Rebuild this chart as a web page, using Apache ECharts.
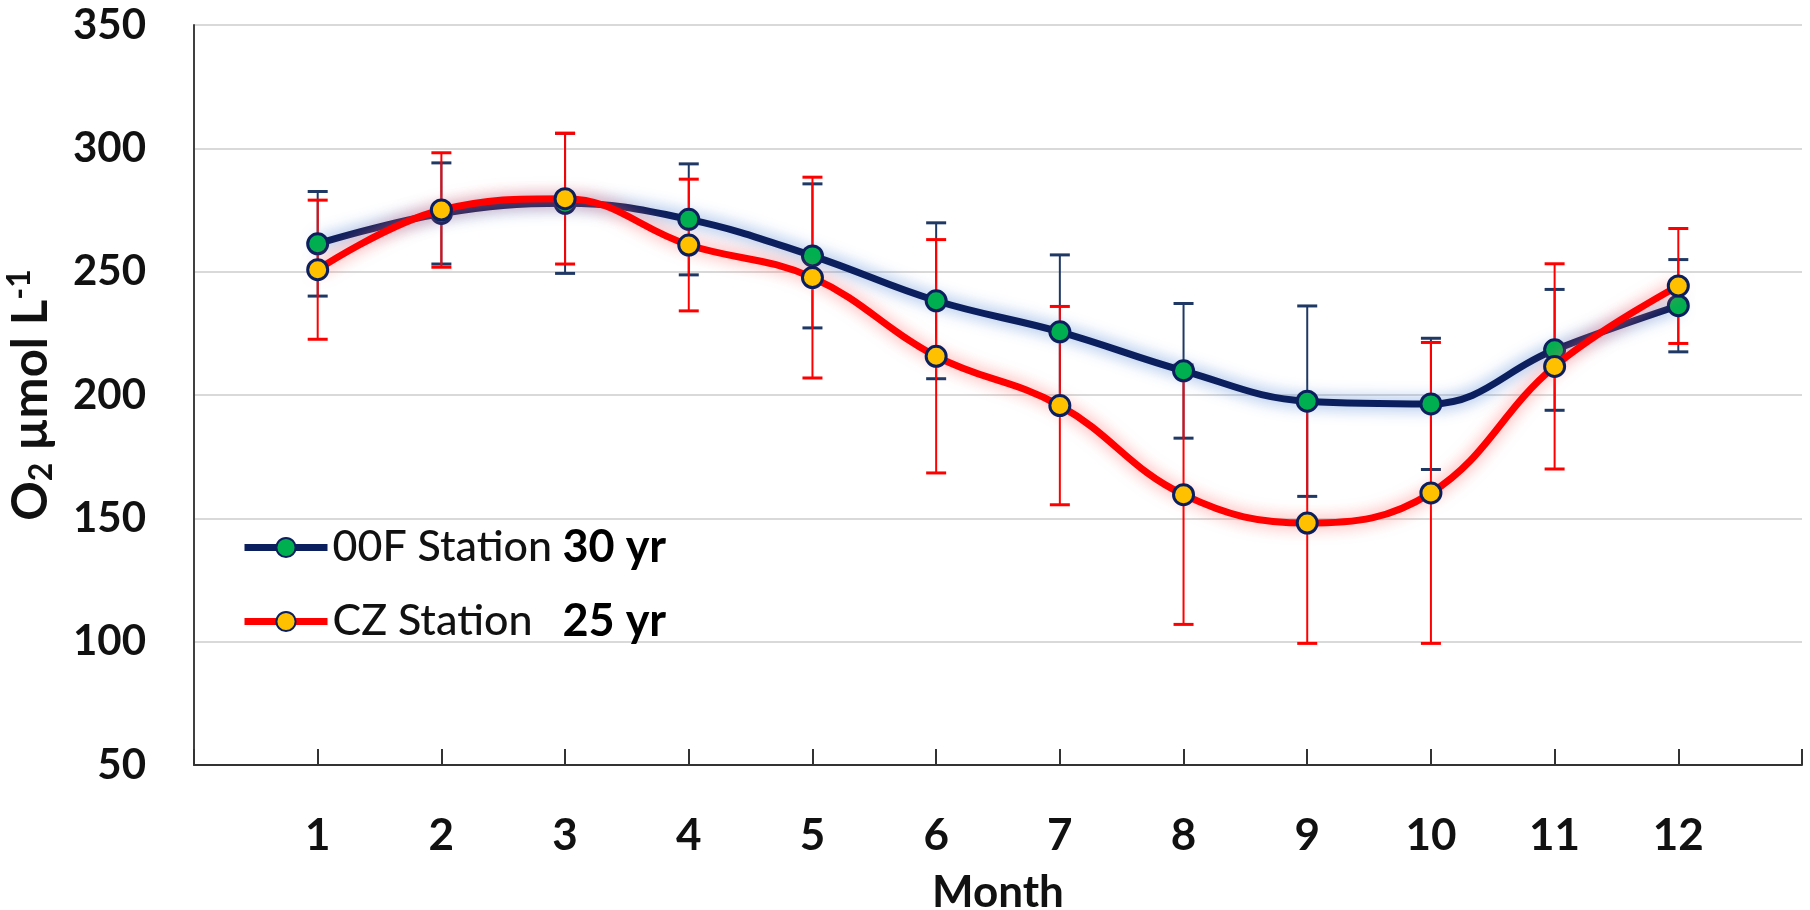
<!DOCTYPE html>
<html>
<head>
<meta charset="utf-8">
<script src="https://cdn.jsdelivr.net/npm/echarts@6/dist/echarts.min.js"></script>
<style>
html,body{margin:0;padding:0;background:#fff;}
#chart{width:1810px;height:910px;}
</style>
</head>
<body>
<div id="chart"></div>
<script>
// ---- data ----
const months = [1,2,3,4,5,6,7,8,9,10,11,12];
const yTicks = [50,100,150,200,250,300,350];
const seriesNames = ['00F Station', 'CZ Station'];
const seriesYears = ['30 yr', '25 yr'];
const oofMean = [261.3, 273.6, 277.7, 271.2, 256.4, 238.2, 225.6, 209.8, 197.5, 196.4, 218.3, 236.2];
const oofErr  = [21.2, 20.5, 28.4, 22.5, 29.2, 31.6, 31.2, 27.3, 38.6, 26.6, 24.5, 18.7];
const czMean  = [250.8, 275.0, 279.6, 260.8, 247.6, 215.7, 195.7, 159.6, 148.1, 160.3, 211.6, 244.2];
const czErr   = [28.2, 23.2, 26.5, 26.7, 40.7, 47.3, 40.2, 52.6, 48.8, 61.0, 41.6, 23.3];

const FONT = 'Lato';
const NAVY = '#0b1f5e';
const RED = '#ff0000';

function pairs(mean){ return months.map((m,i)=>[m, mean[i]]); }
function errData(mean, err){ return months.map((m,i)=>[m, mean[i]-err[i], mean[i]+err[i]]); }

function errRender(color){
  return function(params, api){
    const x = api.value(0);
    const lo = api.coord([x, api.value(1)]);
    const hi = api.coord([x, api.value(2)]);
    const hw = 10;
    const st = {stroke: color, lineWidth: 2};
    return {type:'group', children:[
      {type:'line', shape:{x1:lo[0], y1:lo[1], x2:hi[0], y2:hi[1]}, style:st},
      {type:'line', shape:{x1:lo[0]-hw, y1:lo[1], x2:lo[0]+hw, y2:lo[1]}, style:{stroke:color, lineWidth:3}},
      {type:'line', shape:{x1:hi[0]-hw, y1:hi[1], x2:hi[0]+hw, y2:hi[1]}, style:{stroke:color, lineWidth:3}}
    ]};
  };
}

const chart = echarts.init(document.getElementById('chart'));
chart.setOption({
  backgroundColor:'#fff',
  animation:false,
  textStyle:{fontFamily:FONT},
  grid:{left:194, right:8, top:25, bottom:145, containLabel:false, outerBoundsMode:'none'},
  legend:{
    orient:'vertical', left:236, top:520,
    itemWidth:83, itemHeight:24, itemGap:29,
    lineStyle:{width:7},
    data: seriesNames,
    formatter: function(name){
      const i = seriesNames.indexOf(name);
      return '{a|' + name + '}{b|' + seriesYears[i] + '}';
    },
    textStyle:{
      fontFamily:FONT,
      rich:{
        a:{fontFamily:FONT, fontSize:43, fontWeight:500, color:'#111', width:230, lineHeight:50},
        b:{fontFamily:FONT, fontSize:45, fontWeight:'bold', color:'#000', lineHeight:50}
      }
    }
  },
  xAxis:{
    type:'value', min:0, max:13, interval:1,
    name:'Month', nameLocation:'middle', nameGap:106,
    nameTextStyle:{fontFamily:FONT, fontSize:44, fontWeight:'bold', color:'#111'},
    axisLine:{show:true, lineStyle:{color:'#333', width:2}},
    axisTick:{show:true, inside:true, length:16, lineStyle:{color:'#333', width:2}},
    splitLine:{show:false},
    axisLabel:{
      margin:49, fontFamily:FONT, fontSize:44, fontWeight:'bold', color:'#111',
      formatter:function(v){ return months.indexOf(v) >= 0 ? String(v) : ''; }
    }
  },
  yAxis:{
    type:'value', min:yTicks[0], max:yTicks[yTicks.length-1], interval:50,
    name:'O{sub|2} µmol L{sup|-1}', nameLocation:'middle', nameGap:136, nameRotate:90,
    nameTextStyle:{
      fontFamily:FONT, fontSize:49, fontWeight:'bold', color:'#111',
      rich:{
        sub:{fontFamily:FONT, fontSize:32, fontWeight:'bold', color:'#111', verticalAlign:'bottom', lineHeight:54},
        sup:{fontFamily:FONT, fontSize:32, fontWeight:'bold', color:'#111', verticalAlign:'top', lineHeight:54}
      }
    },
    axisLine:{show:true, lineStyle:{color:'#404040', width:2}},
    axisTick:{show:false},
    splitLine:{show:true, lineStyle:{color:'#d9d9d9', width:2}},
    axisLabel:{margin:48, fontFamily:FONT, fontSize:42, fontWeight:'bold', color:'#111'}
  },
  series:[
    {
      type:'custom', name:'oofErr', renderItem:errRender('#1f3864'),
      data: errData(oofMean, oofErr), z:1, silent:true, tooltip:{show:false}
    },
    {
      type:'custom', name:'czErr', renderItem:errRender(RED),
      data: errData(czMean, czErr), z:1, silent:true, tooltip:{show:false}
    },
    {
      type:'line', name:seriesNames[0], data:pairs(oofMean), smooth:0.4, z:3,
      symbol:'circle', symbolSize:20,
      lineStyle:{color:NAVY, width:7, shadowColor:'rgba(90,140,215,0.9)', shadowBlur:16},
      itemStyle:{color:'#00b050', borderColor:NAVY, borderWidth:3}
    },
    {
      type:'line', name:seriesNames[1], data:pairs(czMean), smooth:0.4, z:4,
      symbol:'circle', symbolSize:20,
      lineStyle:{color:RED, width:7, shadowColor:'rgba(255,110,110,0.8)', shadowBlur:16},
      itemStyle:{color:'#ffc000', borderColor:NAVY, borderWidth:3}
    }
  ]
});
</script>
</body>
</html>
